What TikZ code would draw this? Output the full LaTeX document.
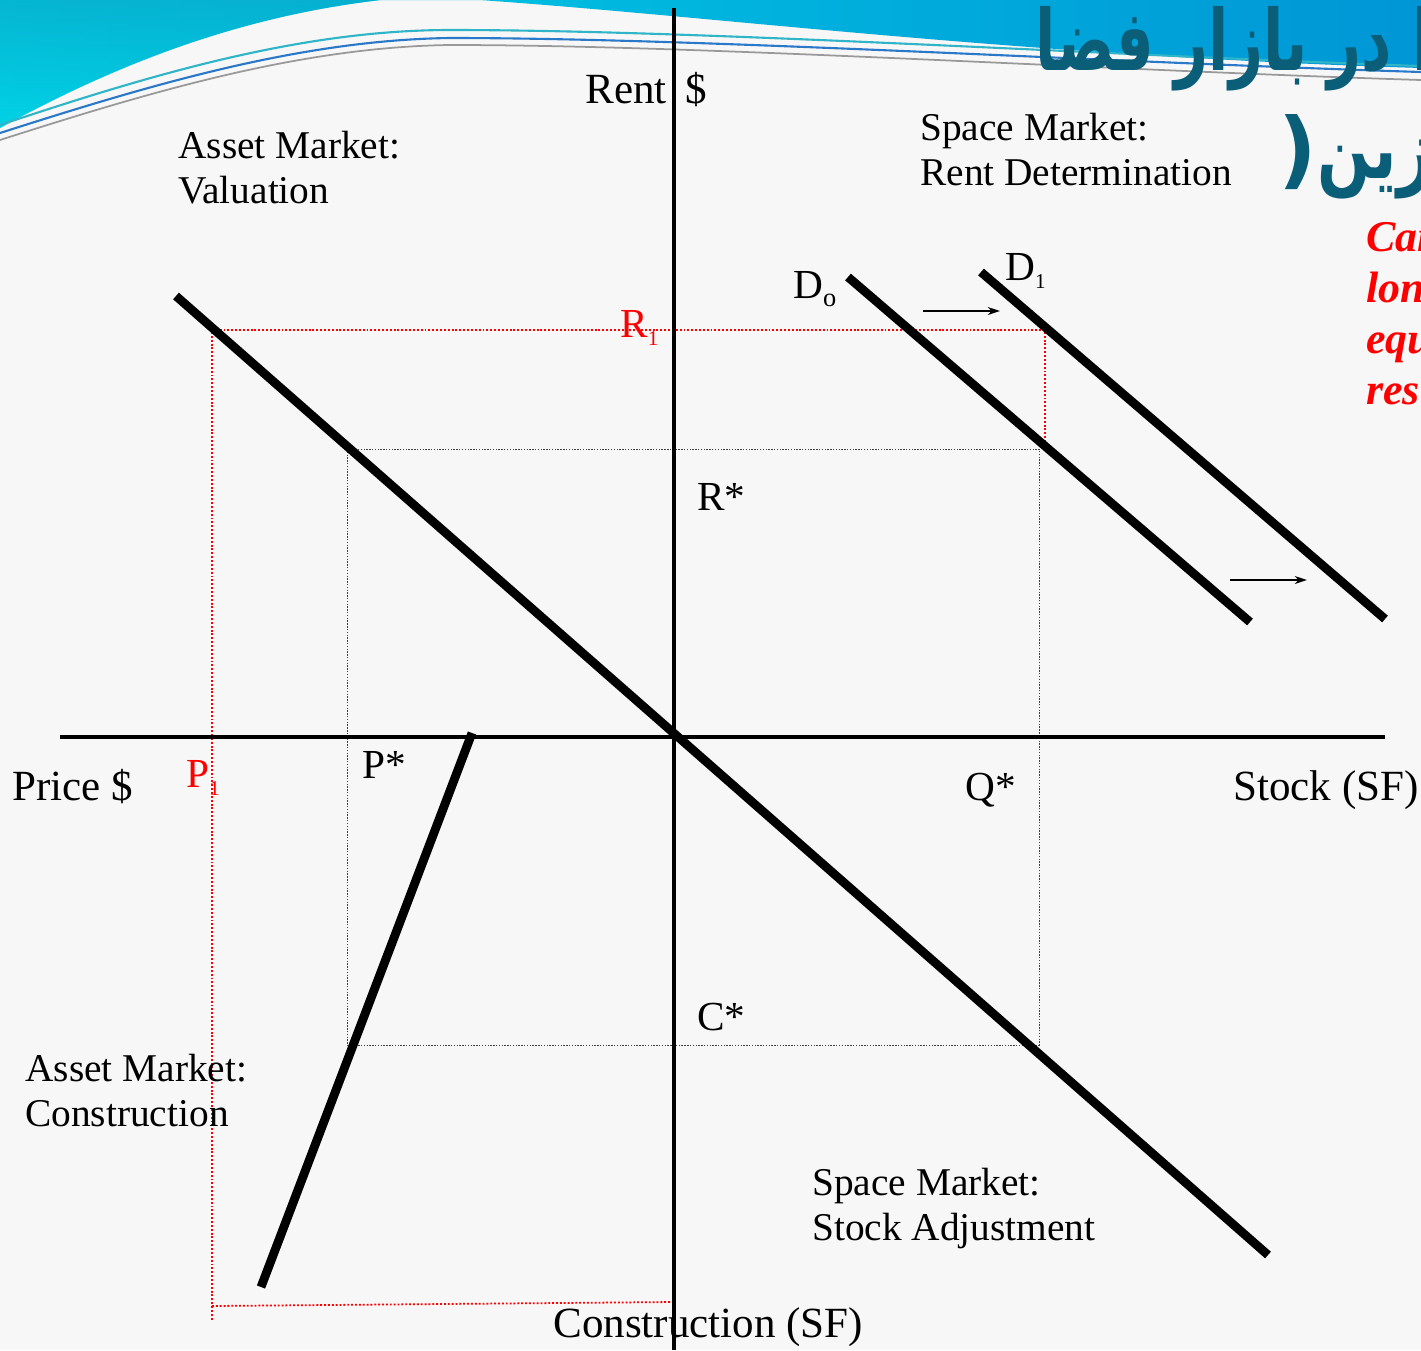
\documentclass[tikz,border=0pt]{standalone}
\usepackage{fontspec}
\setmainfont{Liberation Serif}
\newfontfamily\arabicfont[Script=Arabic]{DejaVu Sans}
\TeXXeTstate=1
\usetikzlibrary{arrows.meta}
\definecolor{bgc}{HTML}{F7F7F7}
\definecolor{bannerL}{HTML}{00D2E6}
\definecolor{bannerT}{HTML}{0AA2C4}
\definecolor{bannerR}{HTML}{0096D6}
\definecolor{titlec}{HTML}{0B5E78}
\definecolor{waveA}{HTML}{2FB4C8}
\definecolor{waveB}{HTML}{2A78C8}
\definecolor{redc}{HTML}{FF0000}
\newcommand{\sbs}[1]{\raisebox{-0.45ex}{\fontsize{12}{12}\selectfont #1}}
\begin{document}
\begin{tikzpicture}[x=0.02cm,y=-0.02cm,
  thickline/.style={line width=5pt},
  axisline/.style={line width=2.3pt},
  guideline/.style={black!75, line width=0.5pt, dash pattern=on 0.8pt off 0.8pt},
  redguide/.style={redc, line width=1pt, dash pattern=on 1.1pt off 1.1pt},
  shiftarrow/.style={-{Stealth[length=7pt,width=4.5pt]}, line width=1pt},
  quadlbl/.style={font=\fontsize{22.4}{25.6}\selectfont, align=left, anchor=north west, inner sep=0pt},
  axislbl/.style={font=\fontsize{24.5}{28}\selectfont, anchor=base west, inner sep=0pt},
  starlbl/.style={font=\fontsize{23.5}{28}\selectfont, anchor=base west, inner sep=0pt},
  notelbl/.style={font=\fontsize{25}{29}\selectfont\bfseries\itshape, text=redc, anchor=base west, inner sep=0pt},
  titlelbl/.style={font=\arabicfont\bfseries\fontsize{48}{50}\selectfont, text=titlec, anchor=base west, inner sep=0pt}
]
\useasboundingbox (0,0) rectangle (1421,1350);
\clip (0,0) rectangle (1421,1350);
\fill[bgc] (0,0) rectangle (1421,1350);

% banner
\shade[left color=bannerL, right color=bannerR]
  (0,0) -- (0,128) .. controls (120,62) and (250,12) .. (400,-2)
  -- (450,-2) .. controls (700,14) and (1000,55) .. (1421,68) -- (1421,0) -- cycle;
\shade[top color=bannerT, bottom color=bannerL, opacity=0.6]
  (0,0) -- (0,128) .. controls (120,62) and (250,12) .. (400,-2) -- cycle;
\draw[waveA, line width=1.2pt] (0,125) .. controls (150,75) and (300,30) .. (450,30)
  .. controls (700,30) and (1100,55) .. (1421,66);
\draw[waveB, line width=1.2pt] (0,133) .. controls (150,85) and (300,40) .. (450,38)
  .. controls (700,38) and (1100,62) .. (1421,72);
\draw[black!40, line width=1pt] (0,140) .. controls (150,92) and (300,47) .. (450,45)
  .. controls (700,45) and (1100,70) .. (1421,80);

% title (clipped at the right edge)
\node[titlelbl] (title1) at (1035,70) {\scalebox{0.7}[1]{\beginR ا در بازار فضا\endR}};
\node[titlelbl] (title2p) at (1278,178) {(};
\node[titlelbl, anchor=base west] (title2) at (title2p.base east) {\scalebox{0.74}[1]{\beginR جایگزین\endR}};

% red note (clipped)
\node[notelbl] (note1) at (1366,251) {Can};
\node[notelbl] (note2) at (1366,302) {long};
\node[notelbl] (note3) at (1366,353) {equi};
\node[notelbl] (note4) at (1366,404) {rest};

% coordinates
\coordinate (vtop) at (674,8);
\coordinate (vbot) at (674,1350);
\coordinate (hl) at (60,737);
\coordinate (hr) at (1385,737);
\coordinate (avA) at (176,296);
\coordinate (avB) at (1268,1255);
\coordinate (ccA) at (472,733);
\coordinate (ccB) at (261,1287);
\coordinate (dzA) at (848,277);
\coordinate (dzB) at (1250,622);
\coordinate (doA) at (981,272);
\coordinate (doB) at (1385,619);
\coordinate (eqTL) at (347,449);
\coordinate (eqBR) at (1039,1045);
\coordinate (rL) at (212,330);
\coordinate (rR) at (1045,330);
\coordinate (rD) at (1045,442);
\coordinate (pB) at (212,1320);
\coordinate (cL) at (212,1306);
\coordinate (cR) at (674,1302);
\coordinate (arAs) at (923,311);
\coordinate (arAe) at (1000,311);
\coordinate (arBs) at (1230,580);
\coordinate (arBe) at (1307,580);

% guides
\draw[guideline] (eqTL) rectangle (eqBR);
\draw[redguide] (rD) -- (rR) -- (rL) -- (pB);
\draw[redguide] (cL) -- (cR);

% labels
\node[quadlbl] (qa) at (178,131) {Asset Market:\\Valuation};
\node[quadlbl] (qb) at (920,113) {Space Market:\\Rent Determination};
\node[quadlbl] (qc) at (25,1054) {Asset Market:\\Construction};
\node[quadlbl] (qd) at (812,1168) {Space Market:\\Stock Adjustment};

\node[axislbl] (rent) at (585,103) {Rent\hspace{0.45em}\$};
\node[axislbl] (price) at (12,800) {Price \$};
\node[axislbl] (stock) at (1233,800) {Stock (SF)};
\node[axislbl] (constr) at (553,1337) {Construction (SF)};

\node[starlbl] (rstar) at (697,510) {R*};
\node[starlbl] (pstar) at (362,778) {P*};
\node[starlbl] (qstar) at (965,800) {Q*};
\node[starlbl] (cstar) at (697,1030) {C*};
\node[starlbl] (dzero) at (793,298) {D\sbs{\fontsize{15}{15}\selectfont o}};
\node[starlbl] (done) at (1005,280) {D\sbs{1}};
\node[starlbl, text=redc] (rone) at (620,337) {R\sbs{1}};
\node[starlbl, text=redc] (pone) at (186,787) {P\sbs{1}};

% axes
\draw[axisline] (vtop) -- (vbot);
\draw[axisline] (hl) -- (hr);

% curves
\draw[thickline] (avA) -- (avB);
\draw[thickline] (ccA) -- (ccB);
\draw[thickline] (dzA) -- (dzB);
\draw[thickline] (doA) -- (doB);

% shift arrows
\draw[shiftarrow] (arAs) -- (arAe);
\draw[shiftarrow] (arBs) -- (arBe);
\end{tikzpicture}
\end{document}
